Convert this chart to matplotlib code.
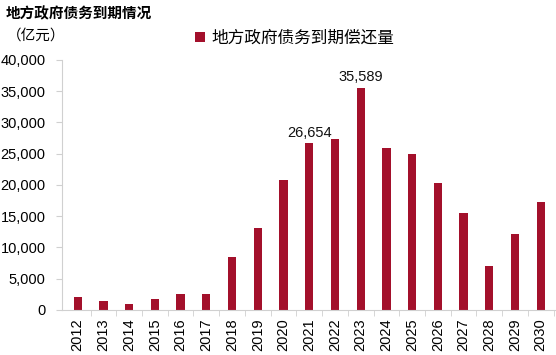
import numpy as np
import matplotlib.pyplot as plt

plt.rcParams['font.family'] = ['Liberation Sans', 'Noto Sans CJK SC', 'DejaVu Sans']

years = [str(y) for y in range(2012, 2031)]
values = [2000, 1400, 1000, 1750, 2500, 2500, 8500, 13100, 20800, 26654,
          27400, 35589, 25900, 25000, 20300, 15500, 7000, 12200, 17300]
labeled = {"2021": "26,654", "2023": "35,589"}

bar_color = "#A3102B"
axis_gray = "#D0D0D0"
cjk = ['Noto Sans CJK SC', 'DejaVu Sans']

fig = plt.figure(figsize=(5.56, 3.55), dpi=100)
ax = fig.add_axes([0.112, 0.127, 0.886, 0.704])

x = np.arange(len(years))
ax.bar(x, values, width=0.32, color=bar_color, label="地方政府债务到期偿还量")

for i, y in enumerate(years):
    if y in labeled:
        ax.text(x[i], values[i] + 500, labeled[y], ha="center", va="bottom",
                fontsize=10.5, color="#111111")

ax.set_xlim(-0.6, len(years) - 0.45)
ax.set_ylim(0, 40000)
ax.set_yticks(range(0, 40001, 5000))
ax.set_yticklabels([f"{v:,}" for v in range(0, 40001, 5000)], fontsize=10.5)
ax.set_xticks(x)
ax.set_xticklabels(years, rotation=90, fontsize=10.5)
ax.set_xticks(x + 0.5, minor=True)
ax.tick_params(axis="x", which="major", length=0, pad=6)
ax.tick_params(axis="x", which="minor", length=4, color=axis_gray)
ax.tick_params(axis="y", length=4, color=axis_gray, pad=8)

for s in ["top", "right"]:
    ax.spines[s].set_visible(False)
ax.spines["left"].set_color(axis_gray)
ax.spines["bottom"].set_color(axis_gray)

leg = ax.legend(loc="upper left", bbox_to_anchor=(0.24, 1.18), frameon=False,
                handlelength=0.6, handleheight=0.6, handletextpad=0.35,
                prop={'family': cjk, 'size': 12})

fig.text(0.01, 0.985, "地方政府债务到期情况", fontsize=10.5, fontweight="bold",
         family=cjk, va="top")
fig.text(0.012, 0.9, "（亿元）", fontsize=10.5, family=cjk, va="center")

fig.savefig("out.png", dpi=100)
